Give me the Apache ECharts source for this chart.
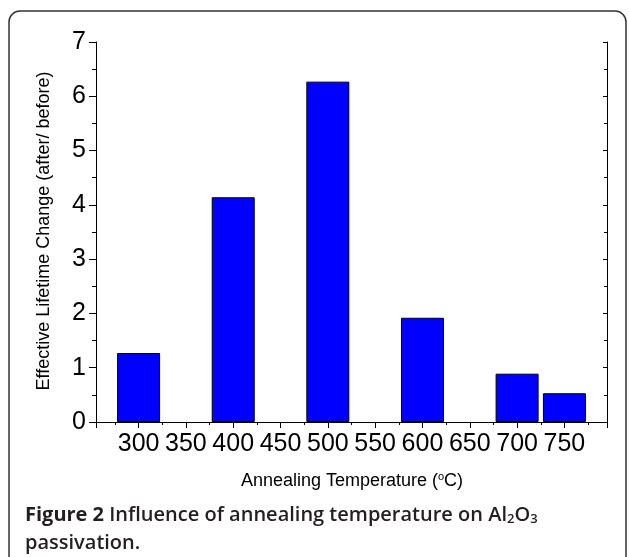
<!DOCTYPE html>
<html>
<head>
<meta charset="utf-8">
<script src="https://cdn.jsdelivr.net/npm/echarts@6/dist/echarts.min.js"></script>
<style>
  html, body { margin: 0; padding: 0; background: #fff; }
  #chart { width: 629px; height: 557px; }
</style>
</head>
<body>
<div id="chart"></div>
<script>
// annealing temperatures (°C) and lifetime change ratio
var temperatures = [300, 400, 500, 600, 700, 750];
var lifetimeChange = [1.27, 4.14, 6.27, 1.92, 0.89, 0.53];
var yTicks = [0, 1, 2, 3, 4, 5, 6, 7];

var barData = temperatures.map(function (t, i) {
  return [t, lifetimeChange[i]];
});

var axisFont = "'Liberation Sans', Arial, sans-serif";
var capFont = "'Open Sans', sans-serif";

var chart = echarts.init(document.getElementById("chart"));
chart.setOption({
  animation: false,
  backgroundColor: "#fff",
  grid: { left: 96, top: 42, right: 22, bottom: 135 },
  xAxis: [
    {
      type: "value",
      position: "bottom",
      min: 255,
      max: 795,
      splitNumber: 11,
      axisLine: { lineStyle: { color: "#000", width: 1 } },
      axisTick: { show: true, inside: false, length: 6, lineStyle: { color: "#000" } },
      minorTick: { show: true, splitNumber: 2, length: 3, lineStyle: { color: "#000" } },
      splitLine: { show: false },
      axisLabel: {
        color: "#000",
        fontFamily: axisFont,
        fontSize: 25,
        margin: 10,
        showMinLabel: false,
        showMaxLabel: false
      }
    },
    {
      type: "value",
      position: "top",
      min: 255,
      max: 795,
      splitNumber: 11,
      axisLine: { lineStyle: { color: "#000", width: 1 } },
      axisTick: { show: true, inside: true, length: 4, lineStyle: { color: "#000" } },
      minorTick: { show: false },
      splitLine: { show: false },
      axisLabel: { show: false }
    }
  ],
  yAxis: [
    {
      type: "value",
      position: "left",
      min: yTicks[0],
      max: yTicks[yTicks.length - 1],
      interval: 1,
      axisLine: { show: true, lineStyle: { color: "#000", width: 1 } },
      axisTick: { show: true, inside: false, length: 7, lineStyle: { color: "#000" } },
      minorTick: { show: true, splitNumber: 2, length: 4, lineStyle: { color: "#000" } },
      splitLine: { show: false },
      axisLabel: {
        color: "#000",
        fontFamily: axisFont,
        fontSize: 25,
        margin: 10
      }
    },
    {
      type: "value",
      position: "right",
      min: yTicks[0],
      max: yTicks[yTicks.length - 1],
      interval: 1,
      axisLine: { show: true, lineStyle: { color: "#000", width: 1 } },
      axisTick: { show: true, inside: true, length: 4, lineStyle: { color: "#000" } },
      minorTick: { show: true, splitNumber: 2, length: 3, lineStyle: { color: "#000" } },
      splitLine: { show: false },
      axisLabel: { show: false }
    }
  ],
  series: [
    {
      type: "bar",
      xAxisIndex: 0,
      yAxisIndex: 0,
      barWidth: 43,
      data: barData,
      itemStyle: { color: "#0000ff", borderColor: "#000", borderWidth: 1 }
    }
  ],
  graphic: [
    {
      type: "rect",
      shape: { x: 9, y: 11, width: 617, height: 560, r: 11 },
      style: { fill: null, stroke: "#333", lineWidth: 1.5 },
      silent: true
    },
    {
      type: "text",
      x: 44,
      y: 231,
      rotation: Math.PI / 2,
      style: {
        text: "Effective Lifetime Change (after/ before)",
        fontFamily: axisFont,
        fontSize: 18,
        fill: "#000",
        align: "center",
        verticalAlign: "middle"
      }
    },
    {
      type: "text",
      x: 352,
      y: 481,
      style: {
        text: "Annealing Temperature ({sup|o}C)",
        fontFamily: axisFont,
        fontSize: 18,
        fill: "#000",
        align: "center",
        verticalAlign: "middle",
        rich: {
          sup: { fontFamily: axisFont, fontSize: 11, verticalAlign: "top", padding: [0, 0, 9, 0] }
        }
      }
    },
    {
      type: "text",
      left: 25,
      top: 501,
      style: {
        text: "{b|Figure 2}{n| Influence of annealing temperature on Al}{s|2}{n|O}{s|3}\n{n|passivation.}",
        fill: "#231f20",
        fontFamily: capFont,
        lineHeight: 28,
        rich: {
          b: { fontFamily: capFont, fontWeight: "bold", fontSize: 20, fill: "#231f20", lineHeight: 28 },
          n: { fontFamily: capFont, fontWeight: 600, fontSize: 20, fill: "#231f20", lineHeight: 28 },
          s: { fontFamily: capFont, fontWeight: 600, fontSize: 13, fill: "#231f20", lineHeight: 28, padding: [9, 0, 0, 0] }
        }
      }
    }
  ]
});
</script>
</body>
</html>
